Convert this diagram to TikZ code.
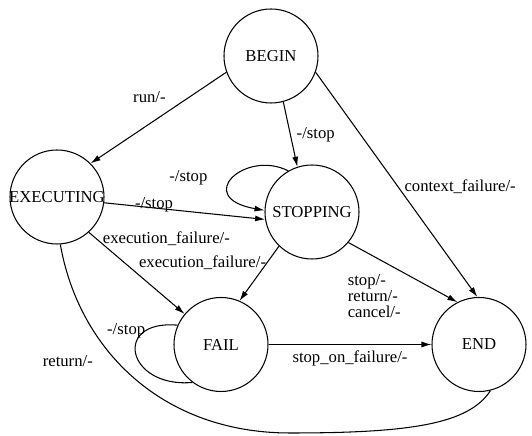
\documentclass[tikz,border=0pt]{standalone}
\usepackage{fontspec}
\setmainfont{LiberationSerif}[Extension=.ttf, UprightFont=*-Regular, BoldFont=*-Bold]
\usetikzlibrary{arrows.meta,positioning}
\tikzset{
  state/.style={circle, draw=black, minimum size=1.88cm, inner sep=0pt, font=\rmfamily\fontsize{9.5}{11}\selectfont},
  trans/.style={-{Latex[length=2mm,width=1.2mm]}},
  lbl/.style={font=\rmfamily\fontsize{9.5}{11}\selectfont},
}
\begin{document}
\begin{tikzpicture}[line width=0.6pt]
  \useasboundingbox (0,0) rectangle (10.64,8.72);
  \node[state] (begin) at (5.42,7.60) {BEGIN};
  \node[state] (executing) at (1.14,4.78) {\makebox[0pt]{EXECUTING}};
  \node[state] (stopping) at (6.24,4.48) {STOPPING};
  \node[state] (fail) at (4.42,1.83) {FAIL};
  \node[state] (end) at (9.58,1.83) {END};
  \coordinate (retlow) at (5.80,0.06);
  \draw[trans] (begin.200) -- node[pos=0.4,above left,lbl]{run/-} (executing.45);
  \draw[trans] (begin.285) -- node[midway,right,lbl]{-/stop} (stopping.108);
  \draw[trans] (begin.340) -- node[pos=0.51,right,lbl]{context\_failure/-} (end.92);
  \draw[trans] (stopping.120) to[out=153,in=170,out distance=0.96cm,in distance=1.46cm] node[pos=0.45,left=13pt,yshift=-2pt,lbl]{-/stop} (stopping.178);
  \draw[trans] (executing.353) -- node[pos=0.31,yshift=2pt,lbl]{-/stop} (stopping.189);
  \draw[trans] (executing.312) -- node[pos=0.08,right,lbl]{execution\_failure/-} (fail.140);
  \draw[trans] (stopping.226) -- node[pos=0.3,left,xshift=3pt,lbl]{execution\_failure/-} (fail.67);
  \draw[trans] (stopping.320) -- node[pos=0.5,below left,inner sep=1pt,align=left,lbl,font=\rmfamily\fontsize{9.5}{9}\selectfont]{stop/-\\return/-\\cancel/-} (end.117);
  \draw (fail.156) to[out=175,in=185,out distance=1.32cm,in distance=1.32cm] node[pos=0.15,left=1pt,yshift=-2pt,lbl]{-/stop} (fail.233);
  \draw[trans] (fail) -- node[midway,below,lbl]{stop\_on\_failure/-} (end);
  \draw (executing.274) to[out=-80,in=180,out distance=2.16cm,in distance=2.54cm] node[pos=0.42,left=10pt,lbl]{return/-} (retlow)
    to[out=0,in=237,out distance=2.4cm,in distance=0.8cm] (end.284);
\end{tikzpicture}
\end{document}
